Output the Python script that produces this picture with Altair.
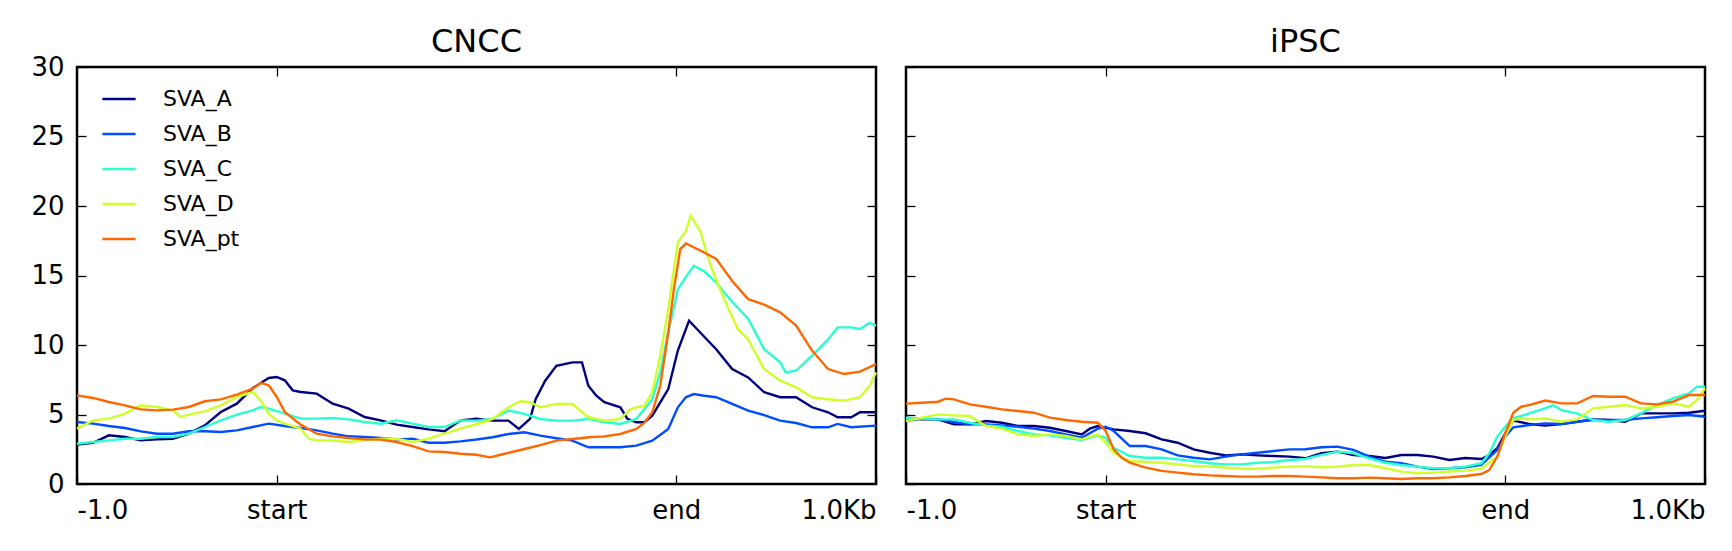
import altair as alt
import pandas as pd

SERIES = ["SVA_A", "SVA_B", "SVA_C", "SVA_D", "SVA_pt"]
COLORS = ["#000080", "#004cff", "#29ffce", "#ceff29", "#ff6800"]
TICK_POS = [0, 25, 75, 100]
TICK_TXT = ["-1.0", "start", "end", "1.0Kb"]

# ---------------- CNCC ----------------
cncc_A_x = [0, 2, 4, 6, 8, 10, 12, 14, 16, 18, 20, 22, 24, 25, 26, 27, 28, 30, 32, 34, 36, 38, 40, 42, 44, 46, 48, 50,
            52, 54, 55.3, 56.7, 57.4, 58.6, 60, 62, 63.2, 64, 65, 66, 68, 68.9, 70, 71, 72, 73, 74, 75.2, 76.6, 78, 80,
            82, 84, 86, 88, 90, 92, 94, 95.2, 96.9, 98, 100]
cncc_A_y = [2.83, 2.97, 3.5, 3.38, 3.14, 3.21, 3.26, 3.62, 4.22, 5.18, 5.78, 6.9, 7.63, 7.7, 7.46, 6.74, 6.62, 6.5, 5.78,
            5.42, 4.82, 4.58, 4.27, 4.1, 3.93, 3.8, 4.58, 4.7, 4.56, 4.56, 3.96, 4.68, 6.1, 7.43, 8.5, 8.75, 8.75, 7.07,
            6.35, 5.88, 5.52, 4.68, 4.44, 4.44, 4.92, 5.88, 6.83, 9.6, 11.75, 10.9, 9.7, 8.27, 7.67, 6.6, 6.24, 6.24,
            5.52, 5.16, 4.8, 4.8, 5.16, 5.16]

cncc_B_x = [0, 2, 4, 6, 8, 10, 12, 14, 16, 18, 20, 22, 24, 26, 28, 30, 32, 34, 36, 38, 40, 42, 44, 46, 48, 50, 52, 54,
            56, 58, 60, 62, 64, 66, 68, 70, 72, 74, 75.2, 76.2, 77.2, 78.5, 80, 82, 84, 86, 88, 90, 92, 94, 95.2, 96.9,
            100]
cncc_B_y = [4.46, 4.34, 4.17, 4.03, 3.79, 3.62, 3.62, 3.79, 3.79, 3.74, 3.86, 4.1, 4.34, 4.17, 4.03, 3.86, 3.62, 3.43,
            3.38, 3.31, 3.21, 3.26, 2.97, 2.97, 3.07, 3.2, 3.36, 3.6, 3.72, 3.48, 3.29, 3.12, 2.64, 2.64, 2.64, 2.76,
            3.12, 3.96, 5.52, 6.24, 6.47, 6.35, 6.24, 5.76, 5.28, 4.96, 4.56, 4.39, 4.08, 4.08, 4.32, 4.08, 4.2]

cncc_C_x = [0, 2, 4, 6, 8, 10, 12, 14, 16, 18, 20, 22, 23, 24, 26, 28, 30, 32, 34, 36, 38, 40, 42, 44, 46, 48, 50, 52,
            54, 56, 58, 60, 62, 64, 66, 68, 70, 72, 73, 74, 75.2, 76.2, 77.2, 78.5, 80, 82, 84, 86, 88, 88.7, 90, 92,
            94, 95.2, 96.9, 98, 99.2, 100]
cncc_C_y = [2.9, 3.02, 3.14, 3.26, 3.26, 3.38, 3.38, 3.62, 4.1, 4.58, 4.99, 5.3, 5.54, 5.42, 5.06, 4.7, 4.7, 4.75, 4.65,
            4.46, 4.34, 4.58, 4.34, 4.1, 4.1, 4.58, 4.56, 4.68, 5.28, 5.04, 4.68, 4.56, 4.56, 4.68, 4.44, 4.32, 4.68,
            6.1, 8.03, 10.9, 14.0, 14.9, 15.7, 15.3, 14.5, 13.1, 11.9, 9.7, 8.75, 8.03, 8.15, 9.23, 10.4, 11.27, 11.27,
            11.15, 11.6, 11.4]

cncc_D_x = [0, 2, 4, 6, 8, 10, 12, 13, 14, 16, 18, 20, 22, 23, 24, 25, 26, 28, 29, 30, 32, 34, 36, 38, 40, 42, 44, 46,
            48, 50, 52, 54, 55.5, 56.7, 58, 60, 62, 64, 66, 68, 69.3, 71, 72, 73, 74, 75.2, 76.2, 76.8, 78, 79.3, 81,
            82.7, 84, 86, 88, 90, 92, 94, 96, 98, 99.2, 100]
cncc_D_y = [3.98, 4.58, 4.7, 5.06, 5.66, 5.54, 5.3, 4.82, 4.99, 5.23, 5.66, 6.26, 6.62, 6.0, 5.06, 4.58, 4.34, 3.98,
            3.26, 3.14, 3.14, 3.02, 3.14, 3.26, 3.26, 3.02, 3.26, 3.62, 3.98, 4.3, 4.68, 5.52, 5.95, 5.88, 5.52, 5.76,
            5.76, 4.8, 4.56, 4.68, 5.4, 5.64, 6.6, 9.23, 12.6, 17.4, 18.2, 19.3, 18.2, 15.7, 13.3, 11.15, 10.4, 8.27,
            7.43, 6.95, 6.24, 6.1, 6.0, 6.24, 7.07, 8.03]

cncc_pt_x = [0, 2, 4, 6, 8, 10, 12, 14, 16, 18, 20, 22, 23, 24, 25, 26, 28, 30, 32, 34, 36, 38, 40, 42, 44, 46, 48, 50,
             51.7, 53.4, 56, 58, 60, 62, 64, 66, 68, 70, 71, 72, 73, 74, 74.7, 75.5, 76.2, 78, 80, 82, 84, 86, 88, 90,
             92, 94, 96, 98, 100]
cncc_pt_y = [6.38, 6.19, 5.9, 5.66, 5.37, 5.3, 5.35, 5.54, 5.95, 6.09, 6.43, 6.86, 7.27, 7.1, 6.26, 5.18, 4.27, 3.62,
             3.43, 3.31, 3.21, 3.19, 3.02, 2.73, 2.35, 2.3, 2.18, 2.1, 1.92, 2.16, 2.52, 2.8, 3.12, 3.24, 3.36, 3.43,
             3.6, 3.96, 4.39, 5.16, 7.07, 10.9, 14.0, 16.9, 17.3, 16.8, 16.2, 14.6, 13.3, 12.9, 12.35, 11.4, 9.6, 8.27,
             7.91, 8.08, 8.63]

# ---------------- iPSC ----------------
ipsc_A_x = [0, 2, 4, 6, 8, 10, 12, 14, 16, 18, 20, 22, 23, 24, 25, 26, 28, 30, 32, 34, 36, 38, 40, 42, 44, 46, 48, 50,
            52, 54, 56, 58, 60, 62, 64, 66, 68, 70, 72, 73, 74, 75, 76, 78, 80, 82, 84, 86, 88, 90, 92, 94, 96, 98, 100]
ipsc_A_y = [4.77, 4.65, 4.65, 4.29, 4.29, 4.53, 4.41, 4.17, 4.17, 4.05, 3.81, 3.57, 3.98, 4.17, 4.05, 3.93, 3.81, 3.65,
            3.21, 2.97, 2.49, 2.25, 2.06, 2.13, 2.06, 2.01, 1.97, 1.85, 2.21, 2.33, 2.09, 2.01, 1.87, 2.09, 2.09, 1.97,
            1.73, 1.87, 1.8, 2.09, 2.57, 3.65, 4.56, 4.32, 4.2, 4.32, 4.48, 4.65, 4.6, 4.48, 5.08, 5.08, 5.08, 5.13,
            5.27]

ipsc_B_x = [0, 2, 4, 6, 8, 10, 12, 14, 16, 18, 20, 22, 24, 25, 26, 28, 30, 32, 34, 36, 38, 40, 42, 44, 46, 48, 50, 52,
            54, 56, 58, 60, 62, 64, 66, 68, 70, 72, 74, 75, 76, 78, 80, 82, 84, 86, 88, 90, 92, 94, 96, 98, 100]
ipsc_B_y = [4.53, 4.7, 4.65, 4.46, 4.29, 4.29, 4.22, 4.12, 3.98, 3.81, 3.57, 3.33, 3.98, 4.12, 3.81, 2.73, 2.73, 2.49,
            2.06, 1.89, 1.77, 1.97, 2.13, 2.25, 2.37, 2.49, 2.5, 2.64, 2.69, 2.45, 1.97, 1.61, 1.49, 1.25, 1.08, 1.13,
            1.2, 1.37, 2.45, 3.41, 4.08, 4.24, 4.36, 4.32, 4.48, 4.6, 4.6, 4.6, 4.72, 4.8, 4.89, 4.96, 4.84]

ipsc_C_x = [0, 2, 4, 6, 8, 10, 12, 14, 16, 18, 20, 22, 24, 25, 26, 28, 30, 32, 34, 36, 38, 40, 42, 44, 46, 48, 50, 52,
            54, 56, 58, 60, 62, 64, 66, 68, 70, 72, 73, 74, 75, 76, 78, 80, 81, 82, 84, 86, 88, 90, 92, 94, 96, 98, 99,
            100]
ipsc_C_y = [4.77, 4.7, 4.65, 4.65, 4.41, 4.22, 4.12, 3.81, 3.57, 3.5, 3.33, 3.17, 3.5, 3.33, 2.61, 2.01, 1.89, 1.89,
            1.77, 1.65, 1.49, 1.41, 1.41, 1.53, 1.58, 1.73, 1.8, 2.09, 2.33, 2.21, 1.85, 1.53, 1.37, 1.25, 1.13, 1.13,
            1.25, 1.49, 2.21, 3.41, 4.12, 4.72, 5.08, 5.44, 5.68, 5.32, 5.08, 4.6, 4.48, 4.6, 5.08, 5.68, 6.16, 6.52,
            7.0, 7.0]

ipsc_D_x = [0, 2, 4, 6, 8, 10, 12, 14, 16, 18, 20, 22, 24, 25, 26, 28, 30, 32, 34, 36, 38, 40, 42, 44, 46, 48, 50, 52,
            54, 56, 58, 60, 62, 64, 66, 68, 70, 72, 74, 75, 76, 77, 78, 80, 82, 84, 86, 88, 90, 92, 94, 96, 98, 99, 100]
ipsc_D_y = [4.53, 4.77, 5.01, 4.94, 4.89, 4.17, 3.98, 3.57, 3.45, 3.57, 3.45, 3.21, 3.57, 2.97, 2.25, 1.65, 1.58, 1.53,
            1.41, 1.29, 1.25, 1.18, 1.1, 1.1, 1.18, 1.25, 1.27, 1.2, 1.25, 1.37, 1.37, 1.13, 0.89, 0.77, 0.82, 0.89,
            0.96, 1.1, 1.97, 3.41, 4.6, 4.72, 4.65, 4.72, 4.48, 4.65, 5.44, 5.56, 5.68, 5.44, 5.56, 5.8, 5.56, 6.04,
            6.88]

ipsc_pt_x = [0, 2, 4, 5, 6, 8, 10, 12, 14, 16, 18, 20, 22, 24, 25, 26, 27, 28, 30, 32, 34, 36, 38, 40, 42, 44, 46, 48,
             50, 52, 54, 56, 58, 60, 62, 64, 66, 68, 70, 72, 73, 74, 75, 76, 77, 78, 80, 82, 84, 86, 88, 90, 92, 94,
             96, 98, 100]
ipsc_pt_y = [5.78, 5.85, 5.92, 6.14, 6.09, 5.73, 5.56, 5.37, 5.25, 5.13, 4.77, 4.6, 4.48, 4.41, 3.81, 2.49, 1.89, 1.53,
             1.18, 0.94, 0.82, 0.7, 0.62, 0.58, 0.53, 0.53, 0.58, 0.58, 0.53, 0.48, 0.41, 0.41, 0.46, 0.41, 0.36, 0.41,
             0.41, 0.48, 0.58, 0.72, 1.0, 1.97, 3.65, 5.13, 5.56, 5.68, 6.0, 5.8, 5.8, 6.33, 6.28, 6.28, 5.8, 5.73,
             5.92, 6.4, 6.4]

CNCC = {"SVA_A": (cncc_A_x, cncc_A_y), "SVA_B": (cncc_B_x, cncc_B_y), "SVA_C": (cncc_C_x, cncc_C_y),
        "SVA_D": (cncc_D_x, cncc_D_y), "SVA_pt": (cncc_pt_x, cncc_pt_y)}
IPSC = {"SVA_A": (ipsc_A_x, ipsc_A_y), "SVA_B": (ipsc_B_x, ipsc_B_y), "SVA_C": (ipsc_C_x, ipsc_C_y),
        "SVA_D": (ipsc_D_x, ipsc_D_y), "SVA_pt": (ipsc_pt_x, ipsc_pt_y)}


def frame(d):
    rows = []
    for s in SERIES:
        xs, ys = d[s]
        for x, y in zip(xs, ys):
            rows.append({"series": s, "x": x, "v": y, "order": SERIES.index(s)})
    return pd.DataFrame(rows)


FONT = "DejaVu Sans"
TL = 9
label_expr = ("datum.value == 0 ? '" + TICK_TXT[0] + "' : datum.value == 25 ? '" + TICK_TXT[1] +
              "' : datum.value == 75 ? '" + TICK_TXT[2] + "' : '" + TICK_TXT[3] + "'")
align_expr = "datum.value == 0 ? 'left' : datum.value == 100 ? 'right' : 'center'"

xscale = alt.Scale(domain=[0, 100], nice=False, zero=False)
yscale = alt.Scale(domain=[0, 30], nice=False)

COMMON = dict(offset=-TL, tickSize=TL, tickWidth=1.3, tickColor="black", domain=False, grid=False,
              minExtent=0, title=None)


def panel(df, title, show_ylabels, show_legend, title_offset):
    x_axis = alt.Axis(values=TICK_POS, labelExpr=label_expr, labelAlign={"expr": align_expr},
                      orient="bottom", labelFontSize=26, labelFont=FONT, labelColor="black",
                      labelPadding=13, labelFlush=False, labelOverlap=False, **COMMON)
    y_axis = alt.Axis(values=[0, 5, 10, 15, 20, 25, 30], orient="left", labels=show_ylabels,
                      labelFontSize=26, labelFont=FONT, labelColor="black", labelPadding=13,
                      labelFlush=False, labelOverlap=False, **COMMON)
    if show_legend:
        legend = alt.Legend(orient="none", legendX=24, legendY=14, symbolType="stroke", symbolSize=1100,
                            symbolStrokeWidth=2.5, labelFontSize=22, labelFont=FONT, labelColor="black",
                            labelOffset=26, padding=0, rowPadding=6, title=None)
    else:
        legend = None
    lines = alt.Chart(df).mark_line(strokeWidth=2.4).encode(
        x=alt.X("x:Q", scale=xscale, axis=x_axis),
        y=alt.Y("v:Q", scale=yscale, axis=y_axis),
        color=alt.Color("series:N", scale=alt.Scale(domain=SERIES, range=COLORS), legend=legend),
        order=alt.Order("order:Q"),
        detail="series:N",
    )
    mirror = alt.Chart(df).mark_line(opacity=0, strokeWidth=0.1).encode(
        x=alt.X("x:Q", scale=xscale,
                axis=alt.Axis(values=[25, 75], orient="top", labels=False, **COMMON)),
        y=alt.Y("v:Q", scale=yscale,
                axis=alt.Axis(values=[5, 10, 15, 20, 25], orient="right", labels=False, **COMMON)),
        detail="series:N",
    )
    return alt.layer(lines, mirror).resolve_axis(x="independent", y="independent").properties(
        width=799, height=417,
        title=alt.TitleParams(title, fontSize=32, font=FONT, fontWeight="normal", color="black",
                              anchor="middle", offset=title_offset),
    )


left = panel(frame(CNCC), "CNCC", True, True, -4.5)
right = panel(frame(IPSC), "iPSC", False, False, 7)

chart = alt.hconcat(left, right, spacing=16).resolve_scale(color="independent").configure_view(
    stroke="black", strokeWidth=2.5
).properties(
    padding={"left": 21, "top": 16, "right": 5, "bottom": 5}
)

chart.save("out.html", embed_options={"renderer": "svg", "actions": False})
